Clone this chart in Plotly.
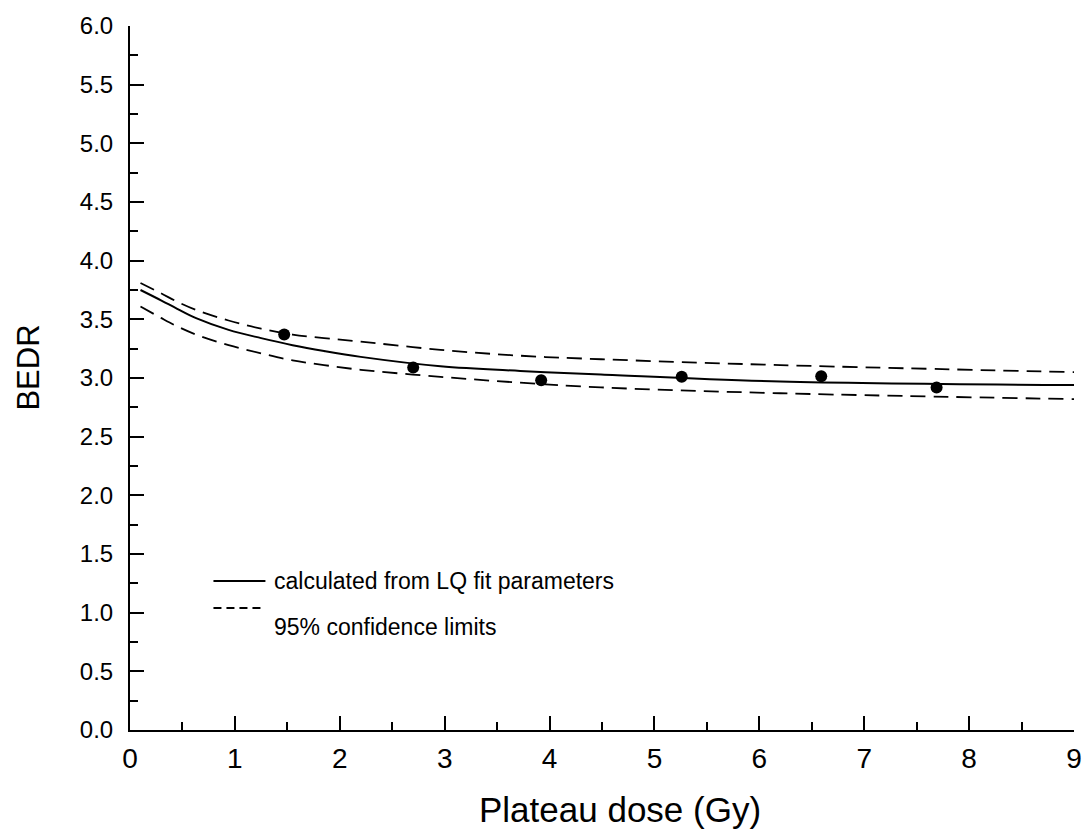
import plotly.graph_objects as go

# Measured data points
dose_points = [1.47, 2.70, 3.92, 5.26, 6.59, 7.69]
bedr_points = [3.37, 3.09, 2.98, 3.01, 3.015, 2.92]

# LQ-fit curve and 95% confidence limits
curve_dose = [0.1, 0.3, 0.45, 0.63, 0.94, 1.25, 1.55, 1.85, 2.2, 2.96, 3.72, 4.49, 6.2, 9.0]
curve_fit = [3.75, 3.66, 3.59, 3.51, 3.41, 3.34, 3.28, 3.23, 3.18, 3.10, 3.06, 3.03, 2.97, 2.94]
curve_upper = [3.81, 3.72, 3.65, 3.58, 3.49, 3.42, 3.37, 3.34, 3.31, 3.24, 3.19, 3.16, 3.11, 3.05]
curve_lower = [3.61, 3.51, 3.44, 3.37, 3.28, 3.21, 3.15, 3.11, 3.07, 3.01, 2.96, 2.92, 2.87, 2.82]

legend_labels = ["calculated from LQ fit parameters", "95% confidence limits"]
x_title = "Plateau dose (Gy)"
y_title = "BEDR"

FONT = "Liberation Sans, Arial, sans-serif"

fig = go.Figure()
fig.add_trace(go.Scatter(x=curve_dose, y=curve_upper, mode="lines",
                         line=dict(color="black", width=1.8, dash="15px,8px", shape="spline"),
                         showlegend=False, hoverinfo="skip"))
fig.add_trace(go.Scatter(x=curve_dose, y=curve_lower, mode="lines",
                         line=dict(color="black", width=1.8, dash="15px,8px", shape="spline"),
                         showlegend=False, hoverinfo="skip"))
fig.add_trace(go.Scatter(x=curve_dose, y=curve_fit, mode="lines",
                         line=dict(color="black", width=2, shape="spline"),
                         showlegend=False))
fig.add_trace(go.Scatter(x=dose_points, y=bedr_points, mode="markers",
                         marker=dict(color="black", size=12),
                         showlegend=False))

# Legend drawn manually (paper coordinates)
X0_PX, X1_PX, Y0_PX, Y1_PX = 129.5, 1074.0, 730.0, 26.0

def px_to_paper_x(px):
    return (px - X0_PX) / (X1_PX - X0_PX)

def px_to_paper_y(py):
    return (Y0_PX - py) / (Y0_PX - Y1_PX)

fig.add_shape(type="line", xref="paper", yref="paper",
              x0=px_to_paper_x(213), x1=px_to_paper_x(265),
              y0=px_to_paper_y(581), y1=px_to_paper_y(581),
              line=dict(color="black", width=2))
fig.add_shape(type="line", xref="paper", yref="paper",
              x0=px_to_paper_x(213), x1=px_to_paper_x(265),
              y0=px_to_paper_y(608), y1=px_to_paper_y(608),
              line=dict(color="black", width=2, dash="8px,5px"))
fig.add_annotation(xref="paper", yref="paper", x=px_to_paper_x(272), y=px_to_paper_y(581),
                   text=legend_labels[0], showarrow=False, xanchor="left", yanchor="middle",
                   font=dict(family=FONT, size=23, color="black"))
fig.add_annotation(xref="paper", yref="paper", x=px_to_paper_x(272), y=px_to_paper_y(627),
                   text=legend_labels[1], showarrow=False, xanchor="left", yanchor="middle",
                   font=dict(family=FONT, size=23, color="black"))

# Axis titles
fig.add_annotation(xref="paper", yref="paper", x=px_to_paper_x(620), y=px_to_paper_y(810),
                   text=x_title, showarrow=False, xanchor="center", yanchor="middle",
                   font=dict(family=FONT, size=35, color="black"))
fig.add_annotation(xref="paper", yref="paper", x=px_to_paper_x(27), y=px_to_paper_y(368),
                   text=y_title, showarrow=False, xanchor="center", yanchor="middle",
                   textangle=-90,
                   font=dict(family=FONT, size=31, color="black"))

fig.update_layout(
    width=1089, height=836,
    margin=dict(l=129.5, r=15, t=26, b=106),
    paper_bgcolor="white", plot_bgcolor="white",
    font=dict(family=FONT, color="black"),
    xaxis=dict(range=[0, 9], dtick=1, tick0=0, showgrid=False, zeroline=False,
               automargin=False,
               showline=True, linecolor="black", linewidth=2,
               ticks="inside", ticklen=14, tickwidth=2, tickcolor="black",
               tickfont=dict(size=28, family=FONT, color="black"),
               ticklabelstandoff=2,
               minor=dict(ticks="inside", dtick=0.5, ticklen=8, tickwidth=2,
                          tickcolor="black", showgrid=False)),
    yaxis=dict(range=[0, 6], dtick=0.5, tick0=0, showgrid=False, zeroline=False,
               automargin=False,
               showline=True, linecolor="black", linewidth=2,
               ticks="inside", ticklen=14, tickwidth=2, tickcolor="black",
               tickformat=".1f",
               tickfont=dict(size=24, family=FONT, color="black"),
               ticklabelstandoff=10,
               minor=dict(ticks="inside", dtick=0.25, ticklen=8, tickwidth=2,
                          tickcolor="black", showgrid=False)),
)

fig.write_html("out.html")
